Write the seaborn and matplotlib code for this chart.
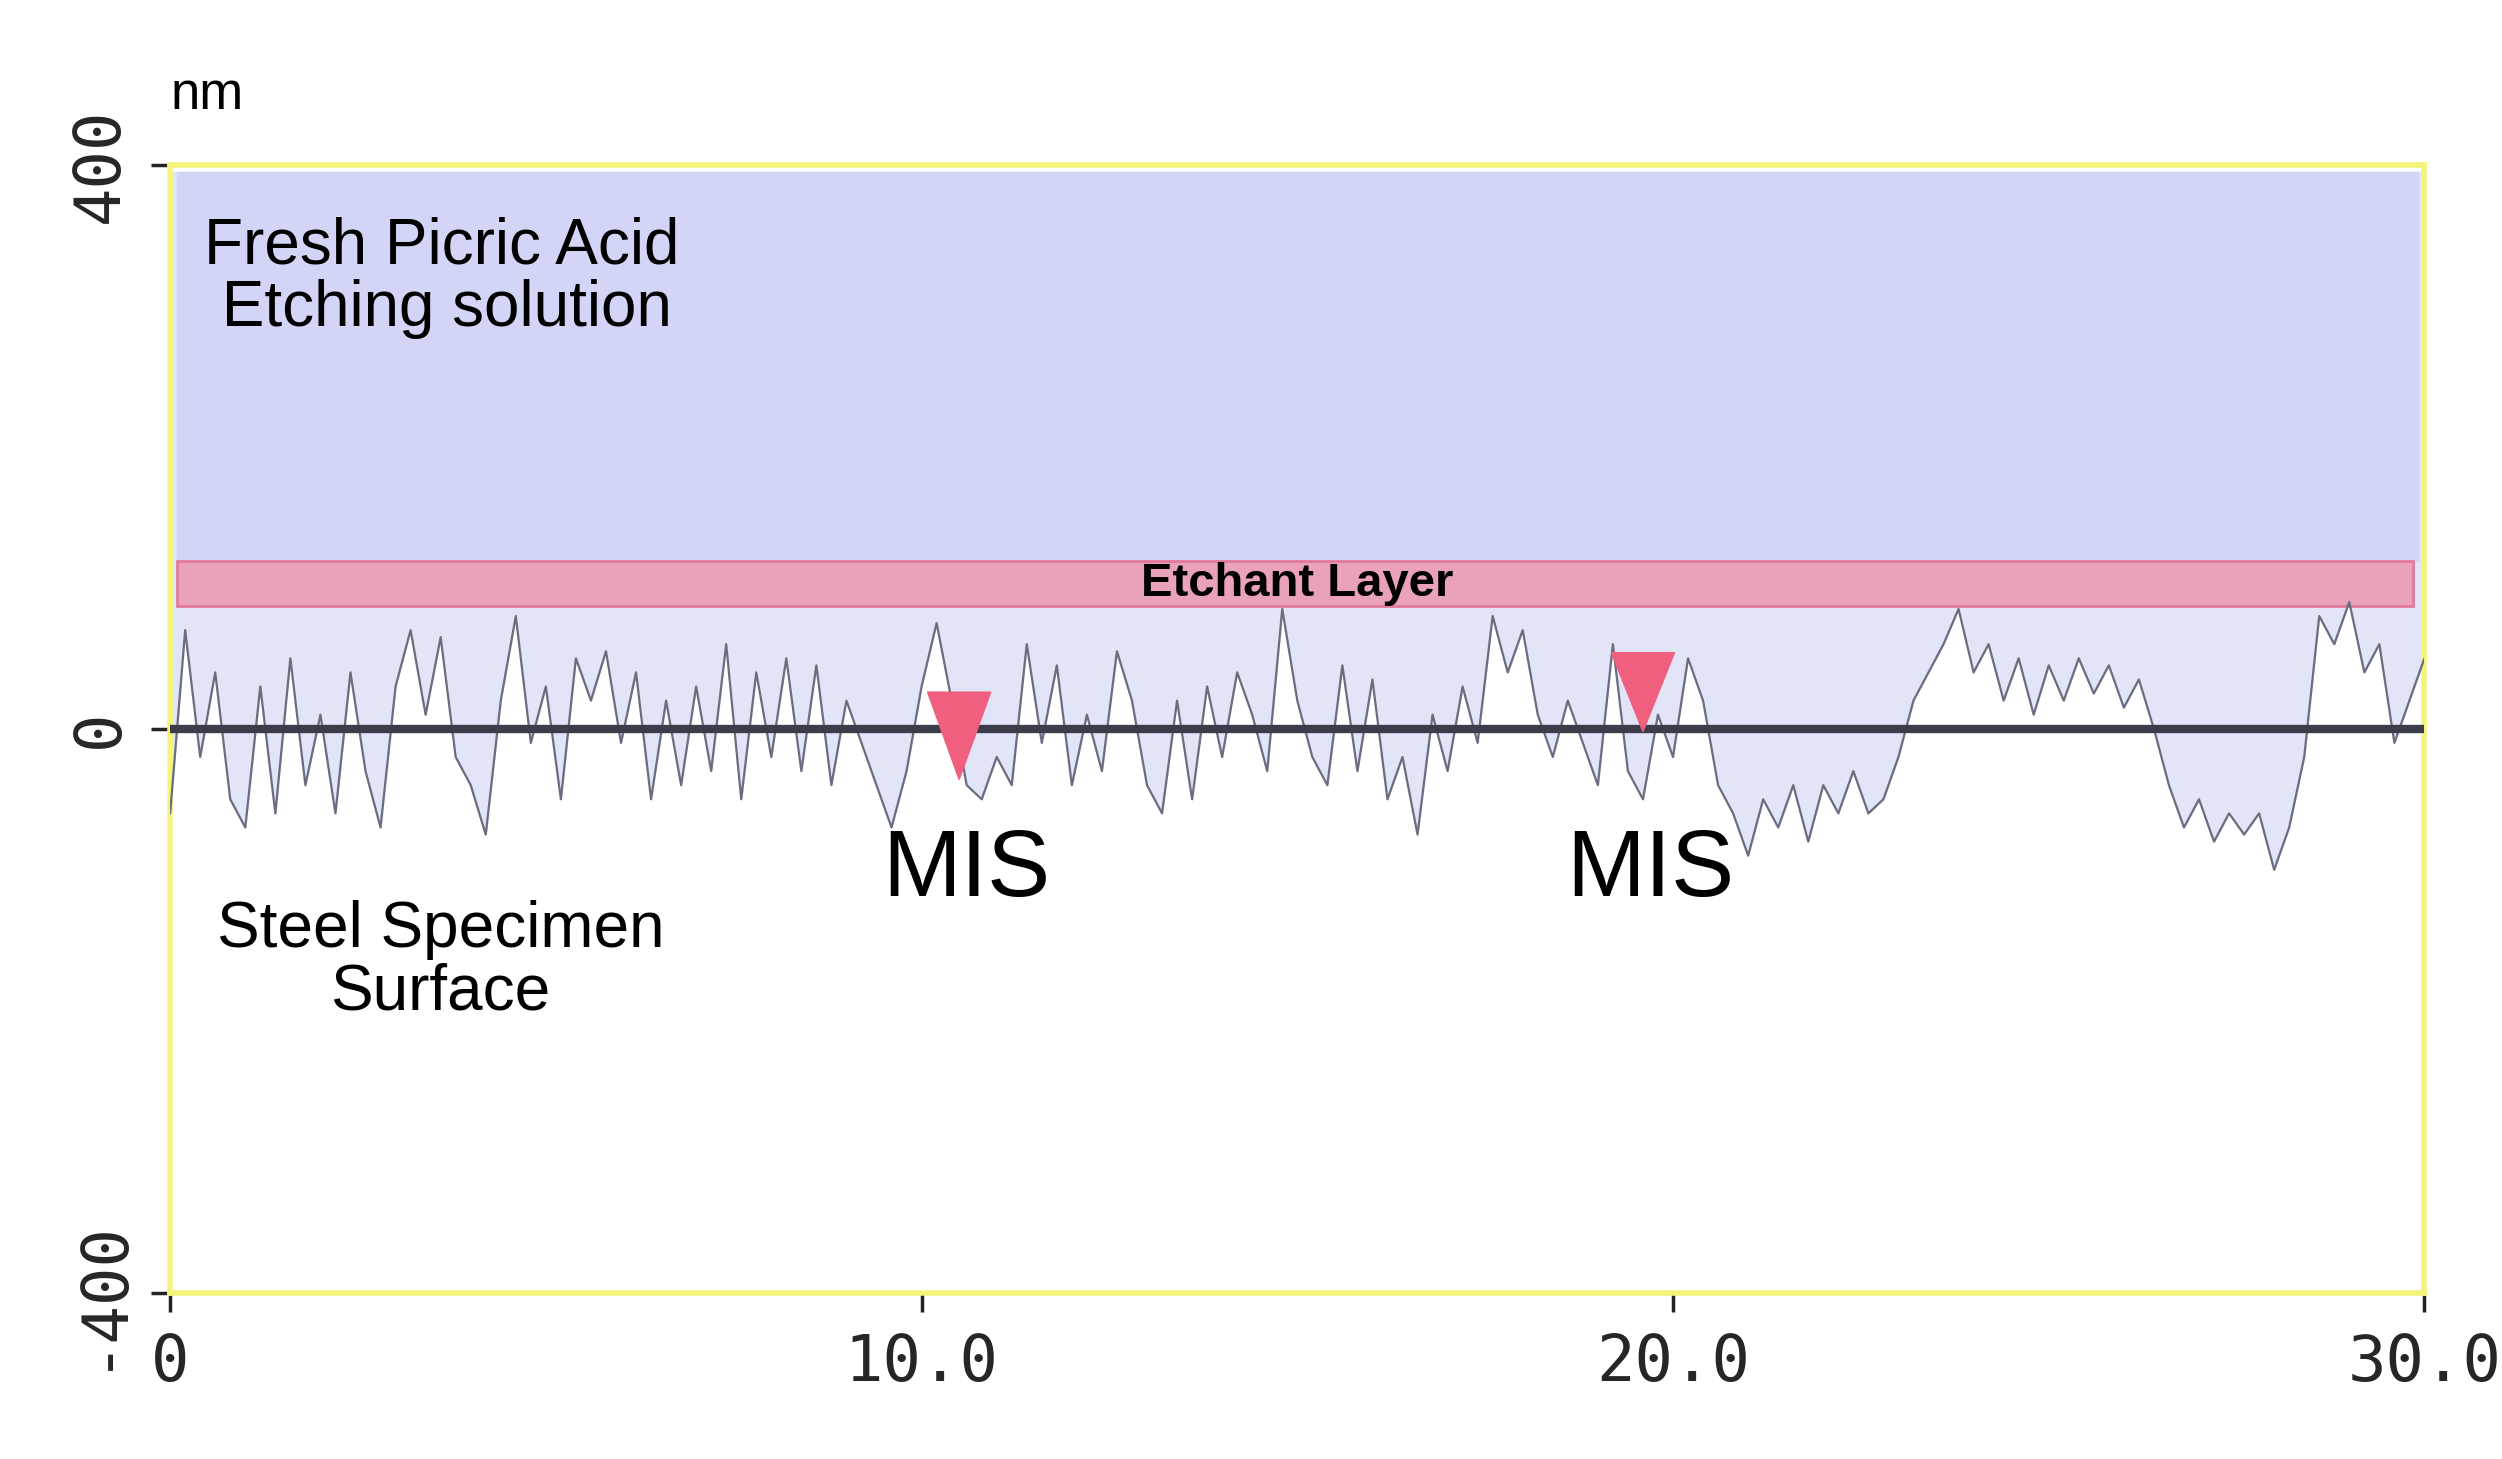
import numpy as np
import pandas as pd
import matplotlib.pyplot as plt
import seaborn as sns

# surface profile, nm, sampled every 0.2 along x
x_pos = np.round(np.arange(0, 30.01, 0.2), 1)
height = [-60, 70, -20, 40, -50, -70, 30, -60, 50, -40, 10, -60, 40, -30, -70, 30, 70, 10, 65, -20,
          -40, -75, 20, 80, -10, 30, -50, 50, 20, 55, -10, 40, -50, 20, -40, 30, -30, 60, -50, 40,
          -20, 50, -30, 45, -40, 20, -10, -40, -70, -30, 30, 75, 20, -40, -50, -20, -40, 60, -10, 45,
          -40, 10, -30, 55, 20, -40, -60, 20, -50, 30, -20, 40, 10, -30, 85, 20, -20, -40, 45, -30,
          35, -50, -20, -75, 10, -30, 30, -10, 80, 40, 70, 10, -20, 20, -10, -40, 60, -30, -50, 10,
          -20, 50, 20, -40, -60, -90, -50, -70, -40, -80, -40, -60, -30, -60, -50, -20, 20, 40, 60, 85,
          40, 60, 20, 50, 10, 45, 20, 50, 25, 45, 15, 35, 0, -40, -70, -50, -80, -60, -75, -60,
          -100, -70, -20, 80, 60, 90, 40, 60, -10, 20, 50]
df = pd.DataFrame({"x": x_pos, "nm": height})

etch_low, etch_high = 87, 119
sol_top = 395
mis_x = [10.5, 19.6]
mis_top = [26, 54]
mis_tip = [-36, -2]

sns.set_style("ticks")
plt.rcParams["font.family"] = ["Liberation Sans", "DejaVu Sans"]
plt.rcParams["text.color"] = "black"
fig = plt.figure(figsize=(25.02, 14.59), dpi=100)
ax = fig.add_axes([0.068, 0.114, 0.901, 0.773])

ax.fill_between(df["x"], df["nm"], sol_top, color="#e2e4f8", zorder=1)
ax.axhspan(etch_high, sol_top, xmin=0.003, xmax=0.997, color="#d3d5f6", zorder=1)
ax.axhspan(etch_low, etch_high, xmin=0.003, xmax=0.995, facecolor="#eaa2bb", edgecolor="#e07a98", lw=2, zorder=2)
sns.lineplot(data=df, x="x", y="nm", ax=ax, color="#6a6c80", lw=1.6, zorder=3)
ax.axhline(0, color="#3c3d4a", lw=6, zorder=4)

for mx, top, tip in zip(mis_x, mis_top, mis_tip):
    ax.fill([mx - 0.42, mx + 0.42, mx], [top, top, tip], color="#f0607e", zorder=5)
    ax.text(mx + 0.1, -70, "MIS", fontsize=68, ha="center", va="top", zorder=6)

ax.text(15, (etch_low + etch_high) / 2, "Etchant Layer", fontsize=34, fontweight="bold",
        ha="center", va="center", zorder=6)
ax.text(0.45, 320, "Fresh Picric Acid\n Etching solution", fontsize=46, va="center", linespacing=1.05)
ax.text(3.6, -165, "Steel Specimen\nSurface", fontsize=46, ha="center", va="center", linespacing=1.05)

ax.set_xlim(0, 30)
ax.set_ylim(-400, 400)
ax.set_xticks([0, 10, 20, 30])
ax.set_xticklabels(["0", "10.0", "20.0", "30.0"], family="DejaVu Sans Mono", fontsize=46)
ax.set_yticks([-400, 0, 400])
ax.set_yticklabels(["-400", "0", "400"], family="DejaVu Sans Mono", fontsize=46, rotation=90, va="center")
ax.tick_params(axis="both", length=14, width=2.5, color="#222222", direction="out", pad=14)
ax.set_xlabel("")
ax.set_ylabel("")
for s in ax.spines.values():
    s.set_color("#f4f47a")
    s.set_linewidth(4)
fig.text(0.068, 0.925, "nm", fontsize=38)

fig.savefig("out.png", dpi=100)
